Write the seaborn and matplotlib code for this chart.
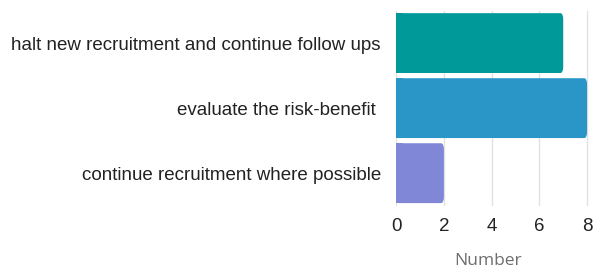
import matplotlib
matplotlib.use("Agg")
import matplotlib.pyplot as plt
import seaborn as sns
import pandas as pd
from matplotlib.patches import FancyBboxPatch

# data
categories = ["halt new recruitment and continue follow ups",
              "evaluate the risk-benefit ",
              "continue recruitment where possible"]
counts = [7, 8, 2]
bar_colors = ["#00999a", "#2a96c7", "#7f87d6"]
x_ticks = [0, 2, 4, 6, 8]

df = pd.DataFrame({"option": categories, "Number": counts})

sns.set_style("white")
plt.rcParams["font.family"] = ["Liberation Sans", "DejaVu Sans"]

fig = plt.figure(figsize=(5.94, 2.71), dpi=100)
ax = fig.add_axes([0.667, 0.241, 0.333, 0.720])

sns.barplot(data=df, x="Number", y="option", hue="option",
            palette=bar_colors, width=0.92, legend=False, ax=ax,
            saturation=1, zorder=3)

# round the right ends of the bars a little
for p in list(ax.patches):
    x0, y0 = p.get_x(), p.get_y()
    w, h = p.get_width(), p.get_height()
    fc = p.get_facecolor()
    p.remove()
    rb = FancyBboxPatch((x0, y0), w, h,
                        boxstyle="round,pad=0,rounding_size=0.12",
                        mutation_aspect=h * 0.9,
                        facecolor=fc, edgecolor="none", zorder=3)
    ax.add_patch(rb)
    # square off the left end
    ax.add_patch(plt.Rectangle((x0, y0), min(0.3, w), h,
                               facecolor=fc, edgecolor="none", zorder=3))

ax.set_xlim(0, 8.29)
ax.set_xticks(x_ticks)
ax.set_xticklabels([str(t) for t in x_ticks], fontsize=13.5, color="#222222")
ax.tick_params(axis="x", length=0, pad=9)
ax.tick_params(axis="y", length=0, pad=11, labelsize=13.5, labelcolor="#222222")
ax.grid(axis="x", color="#e2e2e2", linewidth=1, zorder=0)
ax.grid(axis="y", visible=False)
for s in ax.spines.values():
    s.set_visible(False)

ax.set_ylabel("")
ax.set_xlabel("Number", fontsize=12.5, color="#6e6e6e",
              family=["Open Sans", "DejaVu Sans"])
ax.xaxis.set_label_coords(0.465, -0.245)

fig.savefig("out.png", dpi=100)
